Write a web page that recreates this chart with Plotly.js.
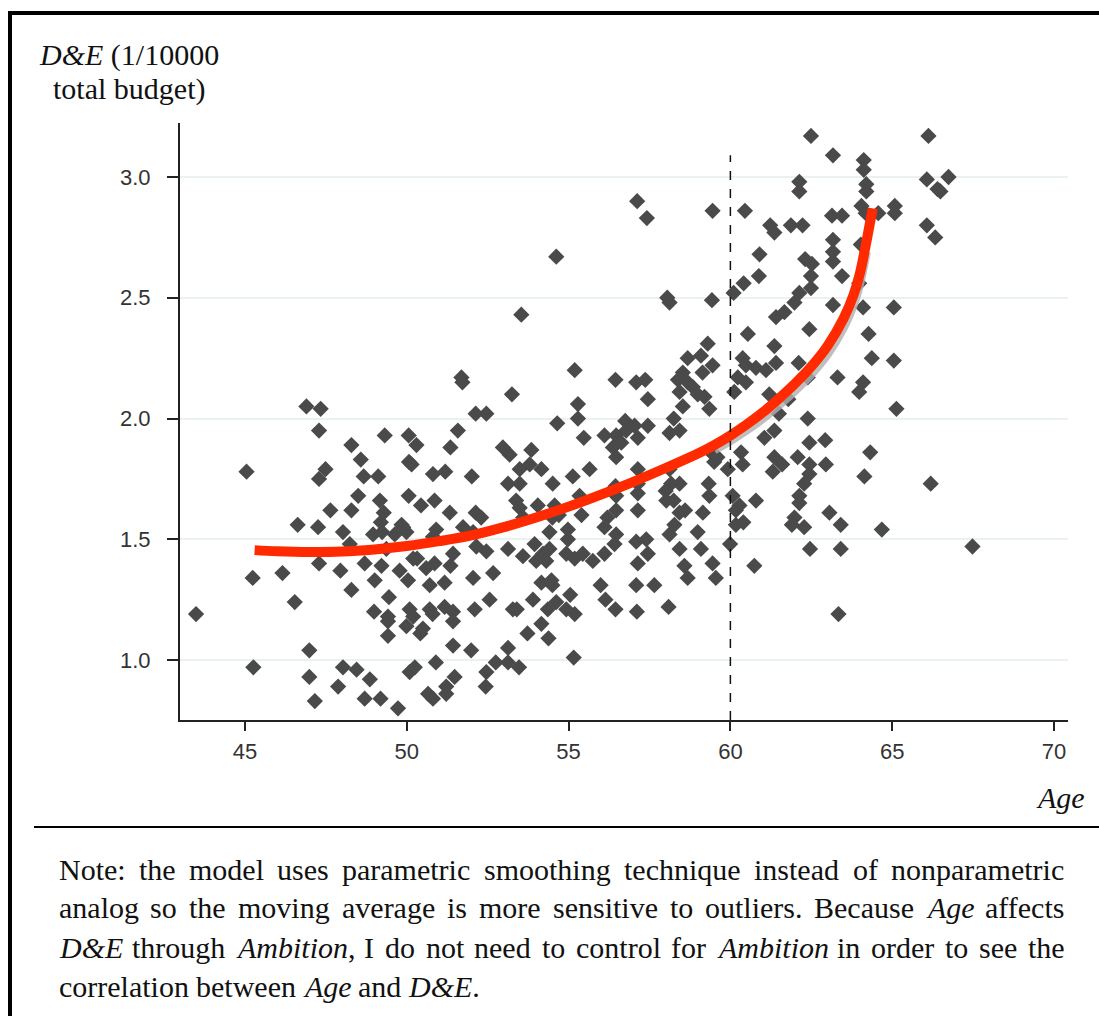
<!DOCTYPE html>
<html><head><meta charset="utf-8">
<script src="https://cdn.plot.ly/plotly-3.0.1.min.js"></script>
<style>html,body{margin:0;padding:0;background:#fff}#chart{width:1099px;height:1016px}</style>
</head><body><div id="chart"></div>
<script>
// ---------- DATA ----------
const age = [
46.90,47.34,47.29,48.29,49.32,50.06,50.30,51.58,51.35,51.69,51.72,52.13,48.58,50.07,50.15,45.05,47.49,47.29,48.67,49.12,
50.81,51.19,52.01,48.50,49.17,50.06,50.44,50.86,47.64,48.29,49.29,51.33,52.13,49.20,49.84,
46.63,47.26,48.03,48.96,49.24,49.63,49.89,49.99,50.91,51.74,52.05,48.24,49.37,50.81,52.15,47.29,47.95,48.70,49.22,49.78,
50.20,50.32,50.60,50.86,51.35,51.43,45.24,46.16,49.01,50.04,50.71,51.17,52.05,48.29,49.45,46.54,43.49,48.99,49.42,49.42,
50.09,50.20,49.99,50.50,50.42,50.71,50.80,51.17,51.43,51.43,52.10,49.42,51.43,51.99,46.99,45.26,48.03,48.45,48.86,46.99,
47.88,47.16,48.70,49.19,49.73,50.09,50.25,50.90,51.48,50.66,50.81,51.22,51.22,
53.13,52.46,53.59,53.95,54.21,54.00,54.31,54.41,54.41,54.98,54.98,54.93,55.19,55.44,55.75,56.11,56.11,56.47,56.42,57.09,
57.40,57.45,57.14,58.12,58.43,58.99,59.09,58.27,60.17,59.99,60.74,59.45,58.58,58.68,59.55,52.67,54.16,54.47,54.50,55.99,
57.09,57.65,52.56,53.28,53.40,53.90,54.36,54.62,55.05,54.93,55.19,56.14,56.45,57.11,58.09,54.16,53.73,54.38,53.13,52.75,
53.13,53.47,52.46,52.44,55.16,
53.54,55.19,53.25,52.46,56.45,57.09,57.37,57.45,59.30,59.09,58.68,59.45,59.14,58.53,58.38,58.68,58.84,58.43,58.99,59.20,
58.53,59.35,60.54,61.36,60.38,60.23,60.48,60.79,61.10,61.41,60.48,60.12,61.20,54.65,55.29,55.29,55.47,56.11,56.47,56.75,
57.04,57.45,57.14,56.63,56.37,56.47,58.25,58.43,58.12,56.78,52.97,53.18,53.85,53.80,54.16,53.49,55.13,55.65,53.13,53.49,
54.51,57.14,57.14,58.12,58.17,58.43,56.45,59.40,59.50,59.92,60.38,60.33,59.33,59.35,60.07,60.79,60.28,61.31,61.36,61.05,
61.36,52.30,53.38,53.49,53.60,54.05,54.50,54.57,54.70,55.34,55.40,56.47,57.14,58.00,58.02,58.43,58.60,59.15,56.47,56.20,
57.14,58.25,60.17,60.40,59.60,
57.12,57.42,59.45,60.45,61.23,61.36,60.90,60.88,60.41,60.10,59.43,58.05,58.12,54.62,61.41,
62.49,63.17,66.12,64.12,64.12,62.13,62.13,64.20,64.20,66.07,66.74,66.40,66.49,64.05,64.57,65.08,65.08,63.14,63.45,64.18,
61.87,62.23,66.07,66.33,63.17,63.17,63.17,64.03,62.31,62.52,62.49,62.49,63.45,62.13,61.98,63.17,64.10,65.05,61.67,63.98,
62.44,64.27,64.37,65.05,63.31,64.10,63.98,65.13,62.39,62.44,62.93,64.32,62.08,62.44,62.95,62.44,64.14,62.28,66.19,62.13,
62.13,63.06,61.98,62.11,62.39,61.79,61.50,61.60,
61.90,62.28,63.41,64.68,62.46,63.41,67.48,63.34
];
const de = [
2.05,2.04,1.95,1.89,1.93,1.93,1.89,1.95,1.88,2.17,2.15,2.02,1.83,1.82,1.81,1.78,1.79,1.75,1.76,1.76,
1.77,1.78,1.76,1.68,1.66,1.68,1.64,1.66,1.62,1.62,1.61,1.61,1.61,1.57,1.56,
1.56,1.55,1.53,1.52,1.53,1.52,1.55,1.53,1.54,1.55,1.53,1.48,1.46,1.51,1.47,1.40,1.37,1.40,1.39,1.37,
1.42,1.42,1.38,1.40,1.39,1.44,1.34,1.36,1.33,1.33,1.31,1.32,1.34,1.29,1.26,1.24,1.19,1.20,1.18,1.16,
1.21,1.18,1.14,1.13,1.11,1.21,1.19,1.22,1.20,1.16,1.21,1.10,1.06,1.04,1.04,0.97,0.97,0.96,0.92,0.93,
0.89,0.83,0.84,0.84,0.80,0.95,0.97,0.99,0.93,0.86,0.84,0.89,0.86,
1.46,1.45,1.43,1.48,1.44,1.41,1.41,1.46,1.53,1.54,1.50,1.44,1.42,1.44,1.41,1.44,1.55,1.52,1.48,1.49,
1.50,1.44,1.40,1.52,1.46,1.53,1.46,1.56,1.56,1.48,1.39,1.40,1.39,1.34,1.34,1.36,1.32,1.33,1.31,1.31,
1.31,1.31,1.25,1.21,1.21,1.25,1.21,1.24,1.27,1.21,1.19,1.25,1.21,1.20,1.22,1.15,1.11,1.09,1.05,0.99,
0.99,0.97,0.95,0.89,1.01,
2.43,2.20,2.10,2.02,2.16,2.15,2.16,2.08,2.31,2.26,2.25,2.22,2.19,2.19,2.16,2.15,2.13,2.11,2.10,2.09,
2.05,2.04,2.35,2.30,2.25,2.17,2.22,2.21,2.20,2.23,2.15,2.11,2.10,1.98,2.06,2.00,1.92,1.93,1.93,1.99,
1.97,1.97,1.92,1.90,1.88,1.84,2.00,1.95,1.94,1.95,1.88,1.85,1.87,1.81,1.79,1.79,1.76,1.79,1.73,1.73,
1.73,1.79,1.73,1.79,1.73,1.73,1.72,1.86,1.82,1.79,1.81,1.86,1.73,1.68,1.68,1.66,1.64,1.78,1.84,1.92,
1.95,1.59,1.66,1.63,1.59,1.64,1.59,1.64,1.60,1.68,1.60,1.68,1.69,1.70,1.66,1.61,1.62,1.61,1.62,1.59,
1.62,1.66,1.62,1.57,1.84,
2.90,2.83,2.86,2.86,2.80,2.77,2.68,2.59,2.56,2.52,2.49,2.50,2.48,2.67,2.42,
3.17,3.09,3.17,3.07,3.03,2.98,2.94,2.97,2.94,2.99,3.00,2.95,2.94,2.88,2.85,2.88,2.85,2.84,2.84,2.85,
2.80,2.80,2.80,2.75,2.74,2.69,2.65,2.72,2.66,2.64,2.59,2.54,2.59,2.52,2.48,2.47,2.46,2.46,2.44,2.56,
2.37,2.35,2.25,2.24,2.17,2.15,2.11,2.04,2.00,1.90,1.91,1.86,1.84,1.81,1.81,1.77,1.76,1.73,1.73,1.68,
1.65,1.61,1.59,2.23,2.17,2.08,2.02,1.81,
1.56,1.55,1.56,1.54,1.46,1.46,1.47,1.19
];
const fitAge = [45.3,46.0,47.0,48.0,49.0,50.0,51.0,52.0,53.0,54.0,55.0,56.0,57.0,58.0,59.0,59.5,60.0,60.5,61.0,61.5,62.0,62.5,63.0,63.5,63.8,64.0,64.2,64.3,64.4];
const fitDE  = [1.455,1.450,1.447,1.449,1.458,1.472,1.492,1.516,1.550,1.590,1.635,1.685,1.738,1.795,1.855,1.890,1.930,1.975,2.025,2.083,2.145,2.215,2.300,2.415,2.510,2.600,2.730,2.800,2.870];
const bandAge = [59.5,60.0,60.5,61.0,61.5,62.0,62.5,63.0,63.5,63.8,64.0,64.2];
const bandDE  = [1.870,1.908,1.952,2.000,2.056,2.116,2.184,2.266,2.378,2.470,2.560,2.690];
const xTicks = [45,50,55,60,65,70];
const yTicks = [1.0,1.5,2.0,2.5,3.0];
const yTickText = ['1.0','1.5','2.0','2.5','3.0'];
const cutoffAge = 60;
const cutoffTop = 3.09;
const yTitleLines = ['<i>D&amp;E</i> (1/10000', 'total budget)'];
const xTitle = '<i>Age</i>';
const noteLines = [
 'Note: the model uses parametric smoothing technique instead of nonparametric',
 'analog so the moving average is more sensitive to outliers. Because <i>Age</i> affects',
 '<i>D&amp;E</i> through <i>Ambition</i>, I do not need to control for <i>Ambition</i> in order to see the',
 'correlation between <i>Age</i> and <i>D&amp;E</i>.'
];

// ---------- LAYOUT HELPERS ----------
const W = 1099, H = 1016, ML = 180, MR = 31, MT = 123, MB = 296;
const PW = W - ML - MR, PH = H - MT - MB;
const px2x = p => (p - ML) / PW;
const py2y = p => (H - MB - p) / PH;
const XR = [42.994, 70.432], YR = [0.7516, 3.2236];
const serif = 'Liberation Serif';

const cv = document.createElement('canvas').getContext('2d');
function measure(word, size) {
  let w = 0; const re = /<i>(.*?)<\/i>|([^<]+)/g; let m;
  while ((m = re.exec(word)) !== null) {
    const it = m[1] !== undefined; const t = (it ? m[1] : m[2]).replace(/&amp;/g, '&');
    cv.font = (it ? 'italic ' : '') + size + 'px "' + serif + '"';
    w += cv.measureText(t).width;
  }
  return w;
}

const annotations = [];
const noteSize = 30, noteLeft = 58.5, noteRight = 1064.5;
const noteMid = [869, 908, 947, 986];
noteLines.forEach((line, i) => {
  const words = line.split(' ');
  const widths = words.map(w => measure(w, noteSize));
  const total = widths.reduce((a, b) => a + b, 0);
  cv.font = noteSize + 'px "' + serif + '"';
  const last = i === noteLines.length - 1;
  const gap = last ? cv.measureText(' ').width : (noteRight - noteLeft - total) / (words.length - 1);
  let x = noteLeft;
  words.forEach((w, k) => {
    annotations.push({text: w, x: px2x(x), y: py2y(noteMid[i]), xref: 'paper', yref: 'paper',
      xanchor: 'left', yanchor: 'middle', showarrow: false, borderpad: 0, borderwidth: 0,
      font: {family: serif, size: noteSize, color: '#111'}});
    x += widths[k] + gap;
  });
});
annotations.push({text: yTitleLines[0], x: px2x(129), y: py2y(55), xref: 'paper', yref: 'paper',
  xanchor: 'center', yanchor: 'middle', showarrow: false, borderpad: 0, borderwidth: 0,
  font: {family: serif, size: 30, color: '#111'}});
annotations.push({text: yTitleLines[1], x: px2x(129), y: py2y(89), xref: 'paper', yref: 'paper',
  xanchor: 'center', yanchor: 'middle', showarrow: false, borderpad: 0, borderwidth: 0,
  font: {family: serif, size: 30, color: '#111'}});
annotations.push({text: xTitle, x: px2x(1085), y: py2y(797), xref: 'paper', yref: 'paper',
  xanchor: 'right', yanchor: 'middle', showarrow: false, borderpad: 0, borderwidth: 0,
  font: {family: serif, size: 30, color: '#111'}});

const traces = [
  {type: 'scatter', mode: 'markers', x: age, y: de, hoverinfo: 'skip',
   marker: {symbol: 'diamond', size: 12.5, color: '#4a4a4a', line: {width: 0}}},
  {type: 'scatter', mode: 'lines', x: bandAge, y: bandDE, hoverinfo: 'skip',
   line: {color: 'rgba(175,175,175,0.8)', width: 9, shape: 'spline'}},
  {type: 'scatter', mode: 'lines', x: fitAge, y: fitDE, hoverinfo: 'skip',
   line: {color: '#ff2a00', width: 10, shape: 'spline', smoothing: 1}}
];

const layout = {
  width: W, height: H, showlegend: false,
  paper_bgcolor: '#fff', plot_bgcolor: '#fff',
  margin: {l: ML, r: MR, t: MT, b: MB, pad: 0},
  xaxis: {range: XR, tickvals: xTicks, ticks: 'outside', ticklen: 9, tickwidth: 2, tickcolor: '#222',
    showline: true, linecolor: '#222', linewidth: 2, showgrid: false, zeroline: false,
    ticklabelstandoff: 2, tickfont: {family: 'Liberation Sans', size: 22, color: '#333'}},
  yaxis: {range: YR, tickvals: yTicks, ticktext: yTickText, ticks: 'outside', ticklen: 11, tickwidth: 2,
    tickcolor: '#222', showline: true, linecolor: '#222', linewidth: 2, showgrid: true,
    gridcolor: '#eaf1f1', gridwidth: 2, zeroline: false, ticklabelstandoff: 12,
    tickfont: {family: 'Liberation Sans', size: 22, color: '#333'}},
  shapes: [
    {type: 'line', xref: 'x', yref: 'y', x0: cutoffAge, x1: cutoffAge, y0: YR[0], y1: cutoffTop,
     line: {color: '#111', width: 1.5, dash: 'dash'}, layer: 'above'},
    {type: 'line', xref: 'paper', yref: 'paper', x0: px2x(10), x1: px2x(10), y0: py2y(1020), y1: py2y(11),
     line: {color: '#000', width: 4}},
    {type: 'line', xref: 'paper', yref: 'paper', x0: px2x(8), x1: px2x(1105), y0: py2y(13), y1: py2y(13),
     line: {color: '#000', width: 4}},
    {type: 'line', xref: 'paper', yref: 'paper', x0: px2x(34), x1: px2x(1105), y0: py2y(827), y1: py2y(827),
     line: {color: '#000', width: 2}}
  ],
  annotations: annotations
};

Plotly.newPlot('chart', traces, layout, {displayModeBar: false, staticPlot: true});
</script>
</body></html>
